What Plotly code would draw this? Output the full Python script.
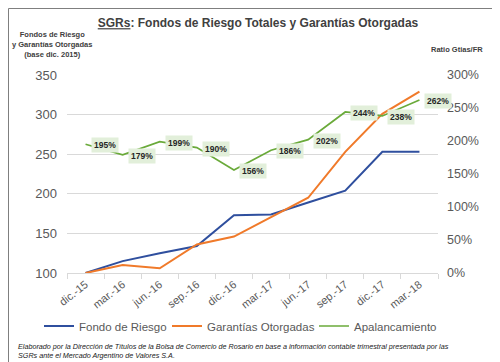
import plotly.graph_objects as go

categories = ["dic.-15", "mar.-16", "jun.-16", "sep.-16", "dic.-16", "mar.-17",
              "jun.-17", "sep.-17", "dic.-17", "mar.-18"]
fondo_riesgo = [100, 115, 125, 134, 173, 174, 189, 204, 253, 253]
garantias = [100, 110, 106, 136, 146, 171, 195, 253, 301, 329]
apalancamiento = [1.95, 1.79, 1.99, 1.90, 1.56, 1.86, 2.02, 2.44, 2.38, 2.62]
left_ticks = [100, 150, 200, 250, 300, 350]
right_ticks = [0, 0.5, 1.0, 1.5, 2.0, 2.5, 3.0]

BLUE = "#2F4F9E"
ORANGE = "#F07A2A"
GREEN = "#6AAA3A"
GRAY = "#595959"
GRID = "#D9D9D9"
FONT = "Liberation Sans, Arial, sans-serif"

ML, MR, MT, MB = 59, 70, 67, 97
W, H = 500, 362
PW, PH = W - ML - MR, H - MT - MB

def px_x(p):
    return (p - ML) / PW

def px_y(p):
    return (H - MB - p) / PH

fig = go.Figure()
fig.add_trace(go.Scatter(x=categories, y=fondo_riesgo, name="Fondo de Riesgo",
                         mode="lines", line=dict(color=BLUE, width=2), legend="legend",
                         showlegend=True))
fig.add_trace(go.Scatter(x=categories, y=garantias, name="Garantías Otorgadas",
                         mode="lines", line=dict(color=ORANGE, width=2), legend="legend2",
                         showlegend=True))
fig.add_trace(go.Scatter(x=categories, y=apalancamiento, name="Apalancamiento",
                         mode="lines", line=dict(color=GREEN, width=1.7), yaxis="y2",
                         legend="legend3", showlegend=True))

annotations = []
for c, v in zip(categories, apalancamiento):
    annotations.append(dict(x=c, y=v, xref="x", yref="y2", text=f"<b>{round(v*100)}%</b>",
                            showarrow=False, xanchor="left", yanchor="middle", xshift=5, yshift=-1,
                            bgcolor="#E2EFDA", borderpad=2,
                            font=dict(family=FONT, size=8.5, color="#262626")))

annotations += [
    dict(x=px_x(44), y=px_y(37), xref="paper", yref="paper",
         text="<b>Fondos de Riesgo<br>y Garantías Otorgadas<br>(base dic. 2015)</b>",
         showarrow=False, xanchor="center", yanchor="middle", align="center",
         font=dict(family=FONT, size=7.5, color="#404040")),
    dict(x=px_x(449), y=px_y(42), xref="paper", yref="paper",
         text="<b>Ratio Gtias/FR</b>",
         showarrow=False, xanchor="center", yanchor="middle",
         font=dict(family=FONT, size=7.5, color="#404040")),
    dict(x=px_x(8), y=px_y(343), xref="paper", yref="paper",
         text="<i>Elaborado por la Dirección de Títulos de la Bolsa de Comercio de Rosario en base a información contable trimestral presentada por las<br>SGRs ante el Mercado Argentino de Valores S.A.</i>",
         showarrow=False, xanchor="left", yanchor="middle", align="left",
         font=dict(family=FONT, size=7.2, color="#1a1a1a")),
]

def legend_at(px):
    return dict(orientation="h", x=px_x(px), xanchor="left", y=px_y(318), yanchor="middle",
                font=dict(size=11.5, color=GRAY), itemwidth=30, bgcolor="rgba(0,0,0,0)",
                visible=True)

fig.update_layout(
    width=W, height=H,
    margin=dict(l=ML, r=MR, t=MT, b=MB),
    showlegend=True,
    paper_bgcolor="white", plot_bgcolor="white",
    title=dict(text="<b><u>SGRs</u>: Fondos de Riesgo Totales y Garantías Otorgadas</b>",
               x=0.5, xanchor="center", y=1 - 15 / H, yanchor="middle",
               font=dict(family=FONT, size=12, color="#404040")),
    font=dict(family=FONT, color=GRAY),
    xaxis=dict(type="category", range=[-0.5, 9.5], tickangle=-38,
               tickfont=dict(size=11, color=GRAY),
               showline=True, linecolor=GRID, linewidth=1,
               ticks="outside", tickson="boundaries", ticklen=5, tickcolor=GRID,
               showgrid=False, zeroline=False),
    yaxis=dict(range=[100, 350], tickvals=left_ticks, tickfont=dict(size=13, color=GRAY),
               showgrid=True, gridcolor=GRID, gridwidth=1, zeroline=False, ticks="",
               ticklabelstandoff=9),
    yaxis2=dict(range=[0, 3], tickvals=right_ticks, tickformat=".0%", overlaying="y",
                side="right", tickfont=dict(size=12.5, color=GRAY),
                showgrid=False, zeroline=False, ticks="", ticklabelstandoff=8),
    legend=legend_at(31),
    legend2=legend_at(159),
    legend3=legend_at(306),
    annotations=annotations,
    shapes=[dict(type="rect", xref="paper", yref="paper",
                 x0=px_x(0.5), x1=px_x(499.5), y0=px_y(361.5), y1=px_y(0.5),
                 line=dict(color="#7F7F7F", width=1), layer="above")],
)

fig.write_html("out.html")
